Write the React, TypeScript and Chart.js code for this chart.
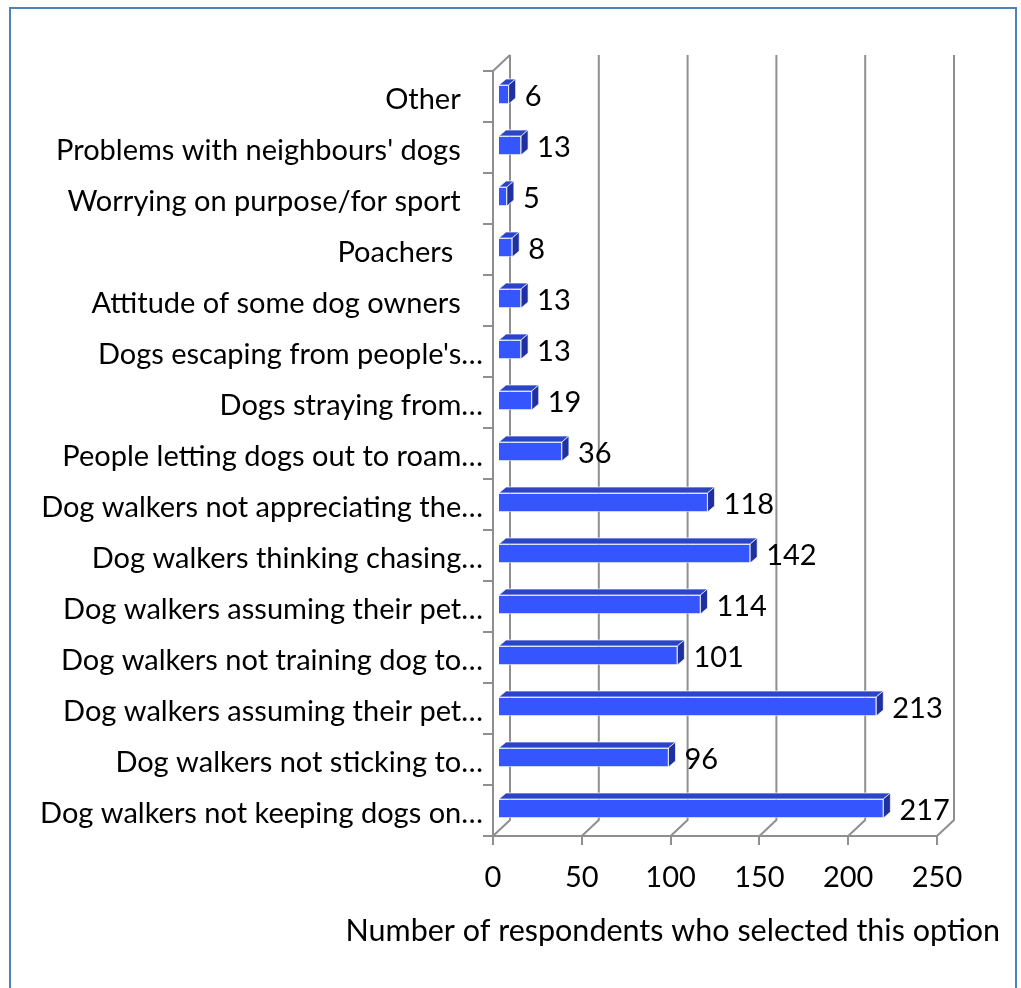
import React, { useEffect, useRef } from "react";
import { Chart, registerables } from "chart.js";

Chart.register(...registerables);

const categories: string[] = [
  "Other   ",
  "Problems with neighbours' dogs   ",
  "Worrying on purpose/for sport   ",
  "Poachers    ",
  "Attitude of some dog owners   ",
  "Dogs escaping from people's…",
  "Dogs straying from…",
  "People letting dogs out to roam…",
  "Dog walkers not appreciating the…",
  "Dog walkers thinking chasing…",
  "Dog walkers assuming their pet…",
  "Dog walkers not training dog to…",
  "Dog walkers assuming their pet…",
  "Dog walkers not sticking to…",
  "Dog walkers not keeping dogs on…",
];
const respondents: number[] = [6, 13, 5, 8, 13, 13, 19, 36, 118, 142, 114, 101, 213, 96, 217];
const xTickValues: number[] = [0, 50, 100, 150, 200, 250];
const axisTitle = "Number of respondents who selected this option";

const FONT = "Lato";
const FONT_SIZE = 29;
const TITLE_SIZE = 30.5;
const GRID = "#8f8f8f";
const WALL_DX = 17;
const WALL_DY = 16;
const BAR_OFF_X = 5;
const BAR_OFF_Y = 2;
const BAR_DX = 7;
const BAR_DY = 6;
const FRONT = "#3555ff";
const TOP = "#2b45c9";
const SIDE = "#1f309f";

const depthPlugin = {
  id: "depth3d",
  beforeDatasetsDraw(chart: any) {
    const { ctx, chartArea } = chart;
    const x = chart.scales.x;
    ctx.save();
    ctx.strokeStyle = GRID;
    ctx.lineWidth = 2;
    xTickValues.forEach((v) => {
      const px = x.getPixelForValue(v);
      ctx.beginPath();
      ctx.moveTo(px + WALL_DX, chartArea.top - WALL_DY);
      ctx.lineTo(px + WALL_DX, chartArea.bottom - WALL_DY);
      ctx.lineTo(px, chartArea.bottom);
      ctx.stroke();
    });
    ctx.beginPath();
    ctx.moveTo(chartArea.left, chartArea.top);
    ctx.lineTo(chartArea.left + WALL_DX, chartArea.top - WALL_DY);
    ctx.stroke();
    ctx.restore();
    ctx.save();
    ctx.translate(BAR_OFF_X, -BAR_OFF_Y);
  },
  afterDatasetsDraw(chart: any) {
    const { ctx } = chart;
    ctx.restore();
    const meta = chart.getDatasetMeta(0);
    ctx.save();
    meta.data.forEach((el: any, i: number) => {
      const p = el.getProps(["x", "y", "base", "height"], true);
      const x0 = Math.min(p.base, p.x) + BAR_OFF_X;
      const x1 = Math.max(p.base, p.x) + BAR_OFF_X;
      const yT = p.y - p.height / 2 - BAR_OFF_Y;
      const yB = p.y + p.height / 2 - BAR_OFF_Y;
      // top face
      ctx.beginPath();
      ctx.moveTo(x0, yT);
      ctx.lineTo(x0 + BAR_DX, yT - BAR_DY);
      ctx.lineTo(x1 + BAR_DX, yT - BAR_DY);
      ctx.lineTo(x1, yT);
      ctx.closePath();
      ctx.fillStyle = TOP;
      ctx.fill();
      ctx.strokeStyle = "rgba(255,255,255,0.7)";
      ctx.lineWidth = 1;
      ctx.stroke();
      // side face
      ctx.beginPath();
      ctx.moveTo(x1, yT);
      ctx.lineTo(x1 + BAR_DX, yT - BAR_DY);
      ctx.lineTo(x1 + BAR_DX, yB - BAR_DY);
      ctx.lineTo(x1, yB);
      ctx.closePath();
      ctx.fillStyle = SIDE;
      ctx.fill();
      ctx.stroke();
      // value label
      ctx.fillStyle = "#000";
      ctx.font = `${FONT_SIZE}px ${FONT}`;
      ctx.textAlign = "left";
      ctx.textBaseline = "middle";
      ctx.fillText(String(respondents[i]), x1 + BAR_DX + 9, (yT + yB) / 2 + 2);
    });
    ctx.restore();
  },
  afterDraw(chart: any) {
    const { ctx } = chart;
    ctx.save();
    ctx.fillStyle = "#000";
    ctx.font = `${TITLE_SIZE}px ${FONT}`;
    ctx.textAlign = "right";
    ctx.textBaseline = "middle";
    ctx.fillText(axisTitle, 1000, 931);
    ctx.restore();
  },
};

export default function App() {
  const ref = useRef<HTMLCanvasElement | null>(null);
  useEffect(() => {
    if (!ref.current) return;
    const chart = new Chart(ref.current, {
      type: "bar",
      data: {
        labels: categories,
        datasets: [
          {
            data: respondents,
            backgroundColor: FRONT,
            borderColor: "rgba(255,255,255,0.6)",
            borderWidth: 1,
            barThickness: 19,
          },
        ],
      },
      options: {
        indexAxis: "y",
        responsive: false,
        animation: false,
        devicePixelRatio: 1,
        layout: { padding: { left: 0, top: 71, right: 84, bottom: 0 } },
        plugins: {
          legend: { display: false },
          tooltip: { enabled: false },
          title: { display: false },
        },
        scales: {
          x: {
            type: "linear",
            min: 0,
            max: 250,
            afterBuildTicks: (scale: any) => {
              scale.ticks = xTickValues.map((v) => ({ value: v }));
            },
            afterFit: (scale: any) => {
              scale.height = 152;
            },
            ticks: {
              color: "#000",
              font: { family: FONT, size: FONT_SIZE },
              padding: 15,
              maxRotation: 0,
            },
            grid: {
              display: true,
              drawOnChartArea: false,
              drawTicks: true,
              tickLength: 9,
              color: GRID,
              lineWidth: 2,
            },
            border: { display: true, color: GRID, width: 2 },
          },
          y: {
            type: "category",
            afterFit: (scale: any) => {
              scale.width = 493;
            },
            ticks: {
              color: "#000",
              font: { family: FONT, size: FONT_SIZE },
              padding: 0,
              labelOffset: 3,
              autoSkip: false,
            },
            grid: {
              display: true,
              offset: true,
              drawOnChartArea: false,
              drawTicks: true,
              tickLength: 10,
              color: GRID,
              lineWidth: 2,
            },
            border: { display: true, color: GRID, width: 2 },
          },
        },
      },
      plugins: [depthPlugin],
    } as any);
    return () => chart.destroy();
  }, []);
  return (
    <div style={{ position: "absolute", left: 0, top: 0, width: 1021, height: 988, background: "#fff", overflow: "hidden" }}>
      <div
        style={{
          position: "absolute",
          left: 9,
          top: 7,
          width: 1008,
          height: 1010,
          border: "2px solid #4f81bd",
          boxSizing: "border-box",
        }}
      />
      <canvas ref={ref} width={1021} height={988} style={{ position: "absolute", left: 0, top: 0 }} />
    </div>
  );
}
